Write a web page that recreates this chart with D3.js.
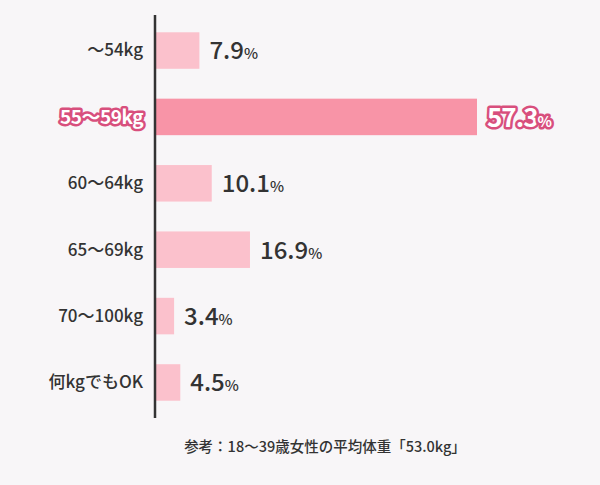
<!DOCTYPE html><html><head><meta charset="utf-8"><script src="https://cdn.jsdelivr.net/npm/d3@7"></script>
<style>body{margin:0;background:#f8f6f8}</style></head><body><svg id="c" width="600" height="485"></svg>
<script>
const categories=["〜54kg","55〜59kg","60〜64kg","65〜69kg","70〜100kg","何kgでもOK"];
const values=[7.9,57.3,10.1,16.9,3.4,4.5];
const highlight=[false,true,false,false,false,false];
const note="参考：18〜39歳女性の平均体重「53.0kg」";
const svg=d3.select("#c");
svg.append("rect").attr("width",600).attr("height",485).attr("fill","#f8f6f8");
const x=d3.scaleLinear().domain([0,57.3]).range([155,477]);
const y=d3.scaleBand().domain(categories).range([19,414]).paddingInner(0.45).paddingOuter(0.2);
const f="'Noto Sans CJK JP','Noto Sans',sans-serif";
categories.forEach((c,i)=>{
 const cy=y(c)+y.bandwidth()/2;
 svg.append("rect").attr("x",x(0)).attr("y",y(c)).attr("width",x(values[i])-x(0)).attr("height",y.bandwidth()).attr("fill",highlight[i]?"#f894a7":"#fbc1cc");
 const lab=svg.append("text").attr("x",143).attr("y",cy).attr("dy","0.35em").attr("text-anchor","end").attr("font-family",f).attr("font-weight",500).attr("font-size",17).text(c);
 const t=svg.append("text").attr("x",x(values[i])+10).attr("y",cy).attr("dy","0.37em").attr("font-family",f).attr("font-weight",500).attr("font-size",24);
 t.append("tspan").text(values[i].toFixed(1));
 t.append("tspan").attr("font-size",15).text("%");
 if(highlight[i]){
  lab.attr("font-size",19).attr("letter-spacing",-0.5);
  t.attr("font-size",26).attr("letter-spacing",-1);
  [lab,t].forEach(s=>s.attr("fill","#fff").attr("stroke","#d84f7d").attr("stroke-width",5).attr("paint-order","stroke").attr("stroke-linejoin","round").attr("font-weight","bold"));
 } else {lab.attr("fill","#333");t.attr("fill","#333");}
});
svg.append("line").attr("x1",155).attr("x2",155).attr("y1",15).attr("y2",418).attr("stroke","#333").attr("stroke-width",2.5);
svg.append("text").attr("x",325).attr("y",452).attr("text-anchor","middle").attr("font-family",f).attr("font-weight",500).attr("font-size",14.5).attr("fill","#333").text(note);
</script></body></html>
